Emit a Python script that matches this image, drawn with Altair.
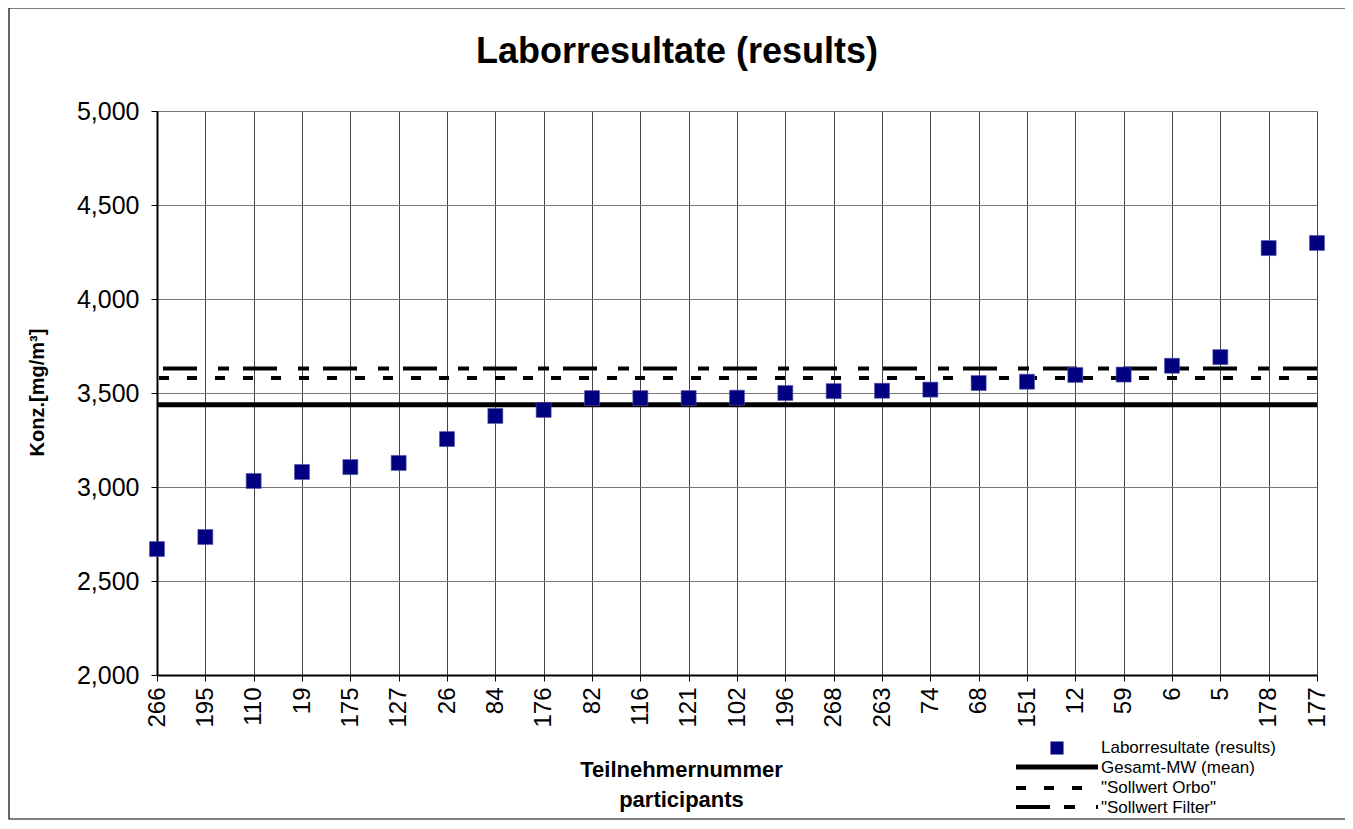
import altair as alt
import pandas as pd

participants = ["266", "195", "110", "19", "175", "127", "26", "84", "176", "82",
                "116", "121", "102", "196", "268", "263", "74", "68", "151", "12",
                "59", "6", "5", "178", "177"]
values = [2670, 2734, 3032, 3080, 3106, 3128, 3255, 3378, 3410, 3473,
          3473, 3473, 3475, 3500, 3510, 3512, 3518, 3553, 3560, 3596,
          3598, 3645, 3691, 4271, 4298]
mean_value = [3437]
sollwert_orbo = [3580]
sollwert_filter = [3630]
legend_labels = ["Laborresultate (results)", "Gesamt-MW (mean)", "\"Sollwert Orbo\"", "\"Sollwert Filter\""]
chart_title = ["Laborresultate (results)"]
y_ticks = [2000, 2500, 3000, 3500, 4000, 4500, 5000]

FONT = "Liberation Sans"
W, H = 1160, 564

df = pd.DataFrame({"p": participants, "v": values})

x_enc = alt.X("p:N", sort=participants,
              scale=alt.Scale(type="point", padding=0),
              axis=alt.Axis(title=["Teilnehmernummer", "participants"],
                            titleFont=FONT, titleFontSize=22, titleFontWeight="bold",
                            titleX=524, titleY=84, titleBaseline="top", titleLineHeight=30,
                            titleColor="black",
                            labelAngle=-90, labelFont=FONT, labelFontSize=24, labelColor="black",
                            labelPadding=6, tickSize=6, tickColor="black",
                            grid=True, gridColor="#444", gridWidth=1,
                            domainColor="black", domainWidth=2))
y_scale = alt.Scale(domain=[2000, 5000], nice=False, zero=False)
y_enc = alt.Y("v:Q", scale=y_scale,
              axis=alt.Axis(title="Konz.[mg/m³]", titleFont=FONT, titleFontSize=20,
                            titleFontWeight="bold", titleColor="black", titleAngle=-90,
                            titleX=-120, titleY=281, titleAlign="center", titleBaseline="middle",
                            values=y_ticks, format=",.0f", labelFont=FONT, labelFontSize=25,
                            labelColor="black", labelPadding=12, tickSize=6, tickColor="black",
                            grid=True, gridColor="#777", gridWidth=1,
                            domainColor="black", domainWidth=2))

points = alt.Chart(df).mark_square(size=225, color="#000080", opacity=1,
                                   stroke="#5555aa", strokeWidth=0.6).encode(x=x_enc, y=y_enc)

def hline(val, dash=None, width=5):
    kw = dict(color="black", strokeWidth=width)
    if dash:
        kw["strokeDash"] = dash
    return alt.Chart(pd.DataFrame({"v": val})).mark_rule(**kw).encode(
        y=alt.Y("v:Q", scale=y_scale))

mean_line = hline(mean_value, None, 5)
orbo_line = hline(sollwert_orbo, [10, 18], 4)
filter_line = hline(sollwert_filter, [34, 14, 11, 21], 4)

# legend (bottom right)
def legend_text(i, y):
    return alt.Chart(pd.DataFrame({"t": [legend_labels[i]]})).mark_text(
        font=FONT, fontSize=17, align="left", baseline="middle", color="black"
    ).encode(x=alt.value(944), y=alt.value(y), text="t:N")

def legend_rule(y, dash=None, width=5):
    kw = dict(color="black", strokeWidth=width)
    if dash:
        kw["strokeDash"] = dash
    return alt.Chart(pd.DataFrame({"a": [0]})).mark_rule(**kw).encode(
        x=alt.value(859), x2=alt.value(941), y=alt.value(y))

legend_sq = alt.Chart(pd.DataFrame({"a": [0]})).mark_square(
    size=170, color="#000080", opacity=1).encode(x=alt.value(900), y=alt.value(637))

title_text = alt.Chart(pd.DataFrame({"t": chart_title})).mark_text(
    font=FONT, fontSize=36, fontWeight="bold", align="center", baseline="middle",
    color="black").encode(x=alt.value(520), y=alt.value(-59), text="t:N")

border = alt.Chart(pd.DataFrame({"a": [0]})).mark_rect(
    fill=None, stroke="black", strokeWidth=1.2).encode(
    x=alt.value(-148), x2=alt.value(1189), y=alt.value(-103), y2=alt.value(708))

chart = alt.layer(
    border,
    mean_line, orbo_line, filter_line,
    points,
    legend_sq,
    legend_rule(656, None, 5),
    legend_rule(677, [10, 18], 4),
    legend_rule(696, [34, 14, 11, 21], 4),
    legend_text(0, 637), legend_text(1, 657), legend_text(2, 677), legend_text(3, 697),
    title_text,
).properties(
    width=W, height=H,
    autosize=alt.AutoSizeParams(type="none"),
    padding={"left": 149, "top": 103, "right": 28, "bottom": 146},
).configure_view(stroke="black", strokeWidth=1.5).configure(background="white")

chart.save("out.html", embed_options={"renderer": "svg", "actions": False})
